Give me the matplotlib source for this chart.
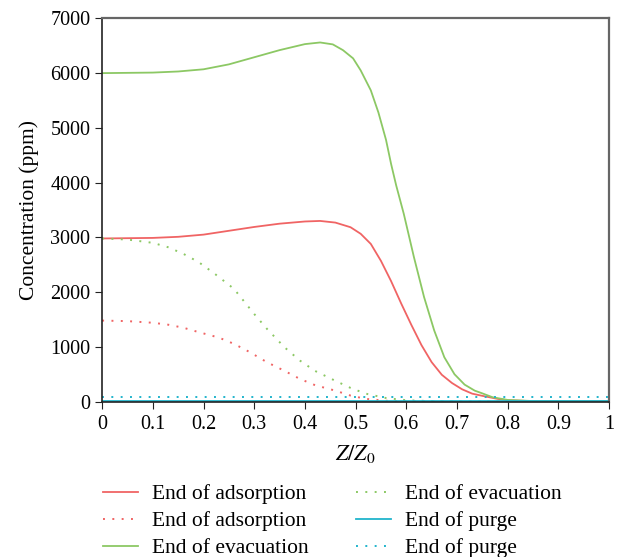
import matplotlib
matplotlib.use('Agg')
import matplotlib.pyplot as plt

# concentration profiles along the bed, Z/Z0 vs ppm
z_ads = [0, 0.1, 0.15, 0.2, 0.25, 0.3, 0.35, 0.4, 0.43, 0.46, 0.49, 0.51, 0.53, 0.55,
         0.57, 0.59, 0.61, 0.63, 0.65, 0.67, 0.69, 0.71, 0.73, 0.75, 0.78, 0.8, 0.85, 1.0]
c_ads = [2980, 2990, 3010, 3050, 3120, 3190, 3250, 3290, 3300, 3270, 3185, 3065, 2880, 2570,
         2200, 1790, 1400, 1030, 720, 490, 340, 225, 145, 105, 50, 25, 8, 3]

z_ads_dot = [0, 0.05, 0.1, 0.13, 0.16, 0.19, 0.23, 0.26, 0.29, 0.325, 0.36, 0.39, 0.42,
             0.46, 0.49, 0.52, 0.56, 0.6, 0.7, 1.0]
c_ads_dot = [1480, 1470, 1440, 1405, 1350, 1270, 1170, 1055, 910, 720, 560, 415, 300,
             200, 110, 50, 15, 5, 1, 0]

z_evac = [0, 0.1, 0.15, 0.2, 0.25, 0.3, 0.35, 0.4, 0.43, 0.455, 0.475, 0.495, 0.51, 0.53,
          0.545, 0.56, 0.57, 0.58, 0.595, 0.615, 0.635, 0.655, 0.675, 0.695, 0.715, 0.735,
          0.75, 0.77, 0.8, 0.85, 1.0]
c_evac = [6000, 6010, 6030, 6070, 6160, 6290, 6420, 6530, 6560, 6525, 6420, 6270, 6050, 5685,
          5280, 4780, 4340, 3950, 3430, 2640, 1910, 1300, 810, 500, 310, 200,
          150, 80, 30, 10, 5]

z_evac_dot = [0, 0.05, 0.1, 0.13, 0.16, 0.19, 0.22, 0.26, 0.3, 0.325, 0.36, 0.39, 0.42,
              0.46, 0.49, 0.52, 0.56, 0.6, 0.65, 0.7, 0.8, 1.0]
c_evac_dot = [2980, 2960, 2900, 2820, 2700, 2550, 2350, 2060, 1600, 1330, 990, 750, 560,
              380, 250, 145, 65, 25, 8, 3, 1, 0]

z_purge = [0, 1]
c_purge = [20, 20]
c_purge_dot = [85, 85]

red = '#f06464'
green = '#8cc864'
cyan = '#20b4cc'

plt.rcParams['font.family'] = 'Liberation Serif'
plt.rcParams['mathtext.fontset'] = 'stix'

fig = plt.figure(figsize=(6.19, 5.57), dpi=100)
ax = fig.add_axes([0.165, 0.279, 0.819, 0.688])

dot = (0, (1, 3.8))
ax.plot(z_ads, c_ads, color=red, lw=1.3, label='End of adsorption')
ax.plot(z_ads_dot, c_ads_dot, color=red, lw=1.4, ls=dot, label='End of adsorption')
ax.plot(z_evac, c_evac, color=green, lw=1.3, label='End of evacuation')
ax.plot(z_evac_dot, c_evac_dot, color=green, lw=1.4, ls=dot, label='End of evacuation')
ax.plot(z_purge, c_purge, color=cyan, lw=1.3, label='End of purge')
ax.plot(z_purge, c_purge_dot, color=cyan, lw=1.4, ls=dot, label='End of purge')

ax.set_xlim(0, 1)
ax.set_ylim(0, 7000)
ax.set_xticks([i / 10 for i in range(11)])
ax.set_xticklabels(['0', '0.1', '0.2', '0.3', '0.4', '0.5', '0.6', '0.7', '0.8', '0.9', '1'])
ax.set_yticks(range(0, 7001, 1000))
ax.tick_params(labelsize=14.5, direction='out', length=5, color='#222222')
ax.tick_params(axis='x', pad=5)

for s in ['left', 'bottom']:
    ax.spines[s].set_color('#222222')
    ax.spines[s].set_linewidth(1.2)
for s in ['top', 'right']:
    ax.spines[s].set_color('#666666')
    ax.spines[s].set_linewidth(1.6)

ax.set_xlabel('$Z/Z_0$', fontsize=16, labelpad=6)
ax.set_ylabel('Concentration (ppm)', fontsize=15.5, labelpad=8)

fig.legend(loc='upper left', bbox_to_anchor=(0.1525, 0.146), ncol=2, frameon=False,
           fontsize=15.5, handlelength=1.63, handletextpad=0.65, columnspacing=2.2,
           labelspacing=0.32, borderaxespad=0)

fig.savefig('out.png', dpi=100)
